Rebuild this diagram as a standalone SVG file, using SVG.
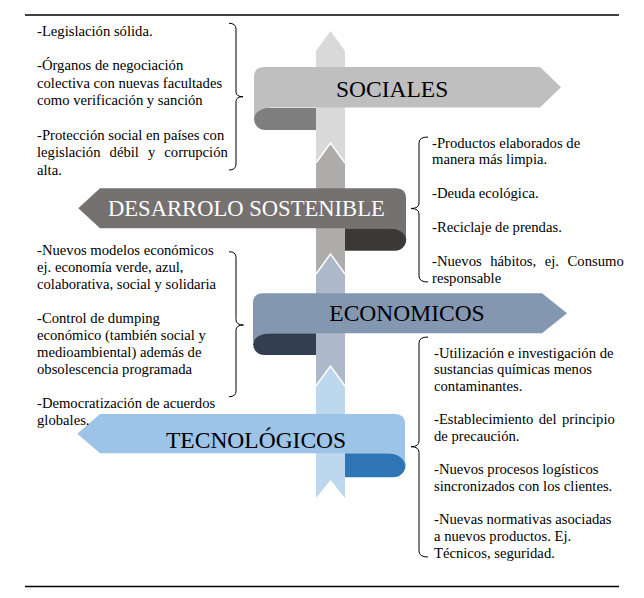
<svg xmlns="http://www.w3.org/2000/svg" width="644" height="598" viewBox="0 0 644 598">
<style>
.t{font-family:"Liberation Serif","Times New Roman",serif;font-size:14.67px;fill:#000}
.h{font-family:"Liberation Serif","Times New Roman",serif;font-size:23.5px}
.br{fill:none;stroke:#000;stroke-width:1}
.rule{stroke:#000;stroke-width:1.5}
.edge{fill:none;stroke:#fff;stroke-width:1.5}
</style>
<rect width="644" height="598" fill="#fff"/>
<line class="rule" x1="25" y1="15" x2="619" y2="15"/>
<line class="rule" x1="25" y1="586.5" x2="619" y2="586.5"/>

<!-- back bands of banners (behind pole) -->
<g id="backs">
<path d="M316,108 H265 A11,11 0 0 0 265,130 H316 Z" fill="#7F7F7F"/>
<path d="M345,228.3 H395 A11.2,11.2 0 0 1 395,250.7 H345 Z" fill="#3B3838"/>
<path d="M316,333.3 H264 A10.85,10.85 0 0 0 264,355 H316 Z" fill="#333F50"/>
<path d="M345,453.3 H393.5 A12,12 0 0 1 393.5,477.3 H345 Z" fill="#2E75B6"/>
</g>

<!-- pole -->
<g id="pole">
<path d="M316,51 L330.5,31 L345,51 V170 H316 Z" fill="#D9D9D9"/>
<path d="M316,163 L330.5,143 L345,163 V282 H316 Z" fill="#AEABAB"/>
<polyline class="edge" points="316,163 330.5,143 345,163"/>
<path d="M316,274 L330.5,254 L345,274 V392 H316 Z" fill="#ADB9CA"/>
<polyline class="edge" points="316,274 330.5,254 345,274"/>
<path d="M316,386 L330.5,366 L345,386 V498 L330.5,480 L316,498 Z" fill="#BDD7EE"/>
<polyline class="edge" points="316,386 330.5,366 345,386"/>
</g>

<g id="sociales">
<path d="M264,67 H540 L561,87.3 L540,107.5 H272 C262,107.5 254,112 254,119 V77 Q254,67 264,67 Z" fill="#BFBFBF"/>
<text class="h" x="336" y="97.3" fill="#000">SOCIALES</text>
</g>

<g id="desarrollo">
<path d="M100,188.3 H396 Q406,188.3 406,198.3 V239.5 C406,233 398,228.3 388,228.3 H100 L78.3,208.3 Z" fill="#767171"/>
<text class="h" x="108" y="216" fill="#fff" style="font-size:22.6px">DESARROLO SOSTENIBLE</text>
</g>

<g id="economicos">
<path d="M263,293.3 H542 L567,313.3 L542,333.3 H271 C261,333.3 253,338 253,344 V303.3 Q253,293.3 263,293.3 Z" fill="#8497B0"/>
<text class="h" x="329.3" y="321" fill="#000">ECONOMICOS</text>
</g>

<g id="tecnologicos">
<path d="M100,414 H395 Q405,414 405,424 V465.3 C405,458.5 397,453.3 387,453.3 H100 L77.3,433.7 Z" fill="#9DC3E6"/>
<text class="h" x="166" y="447.5" fill="#000">TECNOLÓGICOS</text>
</g>

<!-- brackets -->
<g id="connectors">
<path class="br" d="M229,23.3 Q236,23.3 236,29 V92 Q236,96.7 243,96.7 Q236,96.7 236,101.5 V164 Q236,170 229,170"/>
<path class="br" d="M428,137 Q419,137 419,143 V203 Q419,208.5 411,208.5 Q419,208.5 419,214 V276 Q419,282 428,282"/>
<path class="br" d="M229,251.7 Q236,251.7 236,257.5 V319.5 Q236,325 243.5,325 Q236,325 236,330.5 V391 Q236,396.7 229,396.7"/>
<path class="br" d="M428,337 Q419,337 419,343 V441 Q419,446.7 411,446.7 Q419,446.7 419,452.5 V551 Q419,557 428,557"/>
</g>

<g id="text-sociales">
<text class="t" x="37" y="35.5">-Legislación sólida.</text>
<text class="t" x="37" y="70.3">-Órganos de negociación</text>
<text class="t" x="37" y="87.7">colectiva con nuevas facultades</text>
<text class="t" x="37" y="105.1">como verificación y sanción</text>
<text class="t" x="37" y="139.9">-Protección social en países con</text>
<text class="t" x="37" y="157.3" word-spacing="5.4">legislación débil y corrupción</text>
<text class="t" x="37" y="174.7">alta.</text>
</g>

<g id="text-desarrollo">
<text class="t" x="432" y="147.5">-Productos elaborados de</text>
<text class="t" x="432" y="164.4">manera más limpia.</text>
<text class="t" x="432" y="198.2">-Deuda ecológica.</text>
<text class="t" x="432" y="232">-Reciclaje de prendas.</text>
<text class="t" x="432" y="265.8" word-spacing="4.9">-Nuevos hábitos, ej. Consumo</text>
<text class="t" x="432" y="282.7">responsable</text>
</g>

<g id="text-economicos">
<text class="t" x="37" y="254.5">-Nuevos modelos económicos</text>
<text class="t" x="37" y="271.5">ej. economía verde, azul,</text>
<text class="t" x="37" y="288.5">colaborativa, social y solidaria</text>
<text class="t" x="37" y="322.5">-Control de dumping</text>
<text class="t" x="37" y="339.5">económico (también social y</text>
<text class="t" x="37" y="356.5">medioambiental) además de</text>
<text class="t" x="37" y="373.5">obsolescencia programada</text>
<text class="t" x="37" y="407.5">-Democratización de acuerdos</text>
<text class="t" x="37" y="424.5">globales.</text>
</g>

<g id="text-tecnologicos">
<text class="t" x="434" y="357.5">-Utilización e investigación de</text>
<text class="t" x="434" y="374.2">sustancias químicas menos</text>
<text class="t" x="434" y="390.8">contaminantes.</text>
<text class="t" x="434" y="424.2" word-spacing="1.7">-Establecimiento del principio</text>
<text class="t" x="434" y="440.8">de precaución.</text>
<text class="t" x="434" y="474.2">-Nuevos procesos logísticos</text>
<text class="t" x="434" y="490.8">sincronizados con los clientes.</text>
<text class="t" x="434" y="524.2">-Nuevas normativas asociadas</text>
<text class="t" x="434" y="540.8">a nuevos productos. Ej.</text>
<text class="t" x="434" y="557.5">Técnicos, seguridad.</text>
</g>
</svg>
